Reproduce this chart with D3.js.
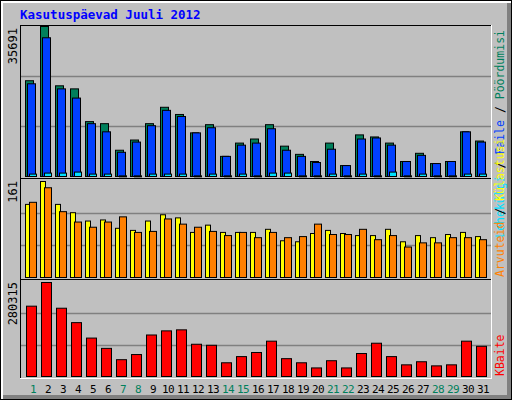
<!DOCTYPE html>
<html><head><meta charset="utf-8">
<script src="https://cdn.jsdelivr.net/npm/d3@7"></script>
<style>body{margin:0;background:#fff}svg{display:block}</style>
</head><body><div id="chart"></div>
<script>
// daily values, July 2012
const days = d3.range(1, 32);
const weekend = [1, 7, 8, 14, 15, 21, 22, 28, 29];
const hits = [22790,35691,21580,20850,13060,12570,6250,8680,12570,16470,14760,10380,12330,4790,7950,8920,12330,7220,5270,3570,7950,2600,9900,9410,7950,3570,5520,3080,3570,10630,8440];
const files = [22060,33010,20850,18660,12570,10630,5760,8190,12090,15740,14280,10380,11600,4790,7460,7950,11360,6250,4790,3330,6490,2600,8920,9170,7460,3570,5030,3080,3570,10630,8190];
const pages = [570,810,810,1050,570,570,160,160,570,570,570,160,570,160,570,160,810,810,160,160,570,160,570,160,1050,160,570,160,160,570,570];
const visits = [122.6,161,122.6,108.7,94.7,96.5,82.5,79,94.7,105.2,100,75.6,87.8,75.6,75.6,75.6,80.8,61.6,59.9,73.8,79,73.8,70.3,70.3,80.8,59.9,70.3,66.8,72.1,75.6,68.6];
const sites = [126.1,150.5,110.4,93,84.3,93,101.7,75.6,77.3,98.2,89.5,84.3,77.3,70.3,75.6,66.8,75.6,66.8,68.6,89.5,72.1,72.1,80.8,63.4,70.3,51.1,58.1,58.1,66.8,66.8,63.4];
const kbytes = [209730,280315,203590,160620,114580,83890,50130,65480,123790,136070,139130,96170,93100,40920,59340,71610,105370,53200,40920,25580,47060,25580,68540,99240,59340,34780,43990,31710,34780,105370,90030];
const maxLabels = ["35691", "161", "280315"];

const W = 512, H = 400;
const svg = d3.select("#chart").append("svg").attr("width", W).attr("height", H);
const mono = "DejaVu Sans Mono";

// frame
svg.append("rect").attr("width", W).attr("height", H).attr("fill", "#000");
svg.append("rect").attr("x", 1).attr("y", 1).attr("width", W - 2).attr("height", H - 2).attr("fill", "#fff");
svg.append("rect").attr("x", 3).attr("y", 3).attr("width", W - 4).attr("height", H - 4).attr("fill", "#808080");
svg.append("rect").attr("x", 3).attr("y", 3).attr("width", W - 8).attr("height", H - 8).attr("fill", "#c0c0c0");

svg.append("text").attr("x", 20).attr("y", 19).attr("font-family", mono).attr("font-weight", "bold")
    .attr("font-size", 12.5).attr("fill", "#0000ff").text("Kasutuspäevad Juuli 2012");

const x = d3.scaleLinear().domain([1, 31]).range([25, 475]);

const panels = [
    { top: 26, bottom: 176, max: 35691 },
    { top: 181, bottom: 277, max: 161 },
    { top: 282, bottom: 376, max: 280315 }
];
const boxes = [[25, 178], [178, 279], [279, 378]];

boxes.forEach(([t, b], i) => {
    const p = panels[i];
    const g = svg.append("g");
    [1, 2].forEach(k => {
        const gy = Math.round(p.bottom - (p.bottom - p.top) * k / 3) + 0.5;
        g.append("line").attr("x1", 21).attr("x2", 491).attr("y1", gy).attr("y2", gy)
            .attr("stroke", "#808080").attr("stroke-width", 1.5);
    });
    g.append("line").attr("x1", 20).attr("x2", 492).attr("y1", t + 0.5).attr("y2", t + 0.5).attr("stroke", "#000");
    g.append("line").attr("x1", 20.5).attr("x2", 20.5).attr("y1", t).attr("y2", b).attr("stroke", "#000");
    g.append("line").attr("x1", 20).attr("x2", 492).attr("y1", b + 0.5).attr("y2", b + 0.5).attr("stroke", "#fff");
    g.append("line").attr("x1", 491.5).attr("x2", 491.5).attr("y1", t).attr("y2", b + 1).attr("stroke", "#fff");
    svg.append("text").attr("transform", `translate(17,${t + 3}) rotate(-90)`).attr("text-anchor", "end")
        .attr("font-family", mono).attr("font-size", 12).attr("fill", "#000").text(maxLabels[i]);
});

function bars(data, panel, dx, w, color) {
    const y = d3.scaleLinear().domain([0, panel.max]).range([panel.bottom, panel.top]);
    svg.append("g").selectAll("rect").data(data).join("rect")
        .attr("x", (d, i) => x(days[i]) + dx + 0.5)
        .attr("y", d => y(d) + 0.5)
        .attr("width", w)
        .attr("height", d => Math.max(1, panel.bottom - y(d)))
        .attr("fill", color).attr("stroke", "#000").attr("stroke-width", 1);
}
bars(hits, panels[0], 0, 8, "#00805c");
bars(files, panels[0], 2, 8, "#0040ff");
bars(pages, panels[0], 4, 7, "#00e0ff");
bars(visits, panels[1], 0, 5, "#ffff00");
bars(sites, panels[1], 4, 7, "#ff8000");
bars(kbytes, panels[2], 1, 10, "#ff0000");

// day labels
svg.append("g").selectAll("text").data(days).join("text")
    .attr("x", d => x(d) + 8).attr("y", 393).attr("text-anchor", "middle")
    .attr("font-family", mono).attr("font-size", 11).attr("letter-spacing", -0.5)
    .attr("fill", d => weekend.includes(d) ? "#00805c" : "#000").text(d => d);

// side legends (read bottom to top)
function legend(yPos, anchor, parts) {
    const t = svg.append("text").attr("transform", `translate(504,${yPos}) rotate(-90)`)
        .attr("text-anchor", anchor).attr("font-family", mono).attr("font-size", 11.5);
    parts.forEach(([s, c]) => t.append("tspan").attr("fill", c).text(s));
}
legend(30, "end", [["Lehekülgi", "#00e0ff"], [" / ", "#000"], ["Faile", "#0040ff"], [" / ", "#000"], ["Pöördumisi", "#00805c"]]);
legend(277, "start", [["Arvuteid", "#ff8000"], [" / ", "#000"], ["Külastusi", "#ffff00"]]);
legend(376, "start", [["KBaite", "#ff0000"]]);
</script></body></html>
